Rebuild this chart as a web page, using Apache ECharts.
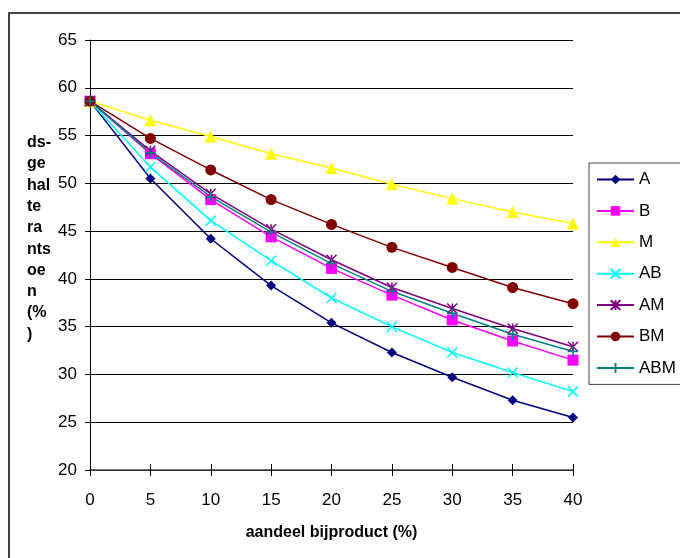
<!DOCTYPE html>
<html>
<head>
<meta charset="utf-8">
<script src="https://cdn.jsdelivr.net/npm/echarts@6/dist/echarts.min.js"></script>
<style>
  html, body { margin: 0; padding: 0; background: #fff; }
  #chart { width: 680px; height: 558px; position: relative; }
  .frame { position: absolute; left: 8px; top: 12px; width: 700px; height: 600px; border: 2px solid #444; box-sizing: border-box; pointer-events: none; }
</style>
</head>
<body>
<div id="chart"></div>
<div class="frame"></div>
<script>
// aandeel bijproduct (%)
const xValues = [0, 5, 10, 15, 20, 25, 30, 35, 40];

// ds-gehalte rantsoen (%) per mengsel
const seriesNames = ["A", "B", "M", "AB", "AM", "BM", "ABM"];
const valsA   = [58.6, 50.5, 44.2, 39.3, 35.4, 32.3, 29.7, 27.3, 25.5];
const valsB   = [58.6, 53.1, 48.3, 44.4, 41.1, 38.3, 35.7, 33.5, 31.5];
const valsM   = [58.6, 56.6, 54.9, 53.1, 51.6, 49.9, 48.4, 47.0, 45.8];
const valsAB  = [58.6, 51.7, 46.1, 41.9, 38.0, 35.0, 32.3, 30.2, 28.2];
const valsAM  = [58.6, 53.4, 48.9, 45.2, 42.0, 39.1, 36.9, 34.8, 32.9];
const valsBM  = [58.6, 54.7, 51.4, 48.3, 45.7, 43.3, 41.2, 39.1, 37.4];
const valsABM = [58.6, 53.2, 48.6, 44.9, 41.6, 38.7, 36.4, 34.2, 32.4];

const colors = ["#000080", "#ff00ff", "#ffff00", "#00ffff", "#800080", "#800000", "#008080"];

const font = "Liberation Sans, Arial, sans-serif";

const symCross = "path://M0,0L10,10M10,0L0,10";
const symStar = "path://M0,0L10,10M10,0L0,10M5,0L5,10";
const symPlus = "path://M5,0L5,10M0,5L10,5";

const myChart = echarts.init(document.getElementById("chart"));

const makeSeries = function (name, vals, color, symbol, size, stroke) {
  return {
    name: name,
    type: "line",
    data: xValues.map((x, i) => [x, vals[i]]),
    color: color,
    symbol: symbol,
    symbolSize: size,
    showAllSymbol: true,
    lineStyle: { color: color, width: 1.5 },
    itemStyle: stroke
      ? { color: color, borderColor: color, borderWidth: 1.5 }
      : { color: color },
    emphasis: { disabled: true },
    animation: false,
  };
};

const option = {
  backgroundColor: "#fff",
  textStyle: { fontFamily: font },
  grid: { left: 90, right: 107, top: 40, bottom: 88 },
  legend: {
    orient: "vertical",
    left: 589,
    top: 163,
    padding: [8, 20, 8, 7],
    itemWidth: 37,
    itemHeight: 12,
    itemGap: 14.4,
    borderColor: "#444",
    borderWidth: 1,
    textStyle: { fontSize: 17, color: "#000", fontFamily: font },
    data: seriesNames,
  },
  xAxis: [
    {
      type: "value",
      min: 0,
      max: 40,
      interval: 5,
      name: "aandeel bijproduct (%)",
      nameLocation: "middle",
      nameGap: 55,
      nameTextStyle: { fontSize: 16, fontWeight: "bold", color: "#000", fontFamily: font },
      axisLine: { lineStyle: { color: "#444", width: 1.5 } },
      axisTick: { show: true, length: 6, lineStyle: { color: "#000" } },
      axisLabel: { fontSize: 17, color: "#000", margin: 22, fontFamily: font },
      splitLine: { show: false },
    },
    {
      // inner half of the crossing ticks
      type: "value",
      min: 0,
      max: 40,
      interval: 5,
      position: "bottom",
      axisLine: { show: false },
      axisTick: { show: true, inside: true, length: 6, lineStyle: { color: "#000" } },
      axisLabel: { show: false },
      splitLine: { show: false },
    },
  ],
  yAxis: {
    type: "value",
    min: 20,
    max: 65,
    interval: 5,
    axisLine: { show: true, lineStyle: { color: "#000", width: 1 } },
    axisTick: { show: true, length: 5, lineStyle: { color: "#000" } },
    axisLabel: { fontSize: 17, color: "#000", margin: 13, fontFamily: font },
    splitLine: { show: true, lineStyle: { color: "#000", width: 1 } },
  },
  graphic: [
    {
      type: "text",
      left: 27,
      top: 132,
      style: {
        text: "ds-\nge\nhal\nte\nra\nnts\noe\nn\n(%\n)",
        font: "bold 16px " + font,
        lineHeight: 21.3,
        fill: "#000",
      },
    },
  ],
  series: [
    makeSeries("A", valsA, colors[0], "diamond", 10, false),
    makeSeries("B", valsB, colors[1], "rect", 11, false),
    makeSeries("M", valsM, colors[2], "triangle", 12, false),
    makeSeries("AB", valsAB, colors[3], symCross, 10, true),
    makeSeries("AM", valsAM, colors[4], symStar, 10, true),
    makeSeries("BM", valsBM, colors[5], "circle", 11, false),
    makeSeries("ABM", valsABM, colors[6], symPlus, 10, true),
  ],
};

myChart.setOption(option);
</script>
</body>
</html>
